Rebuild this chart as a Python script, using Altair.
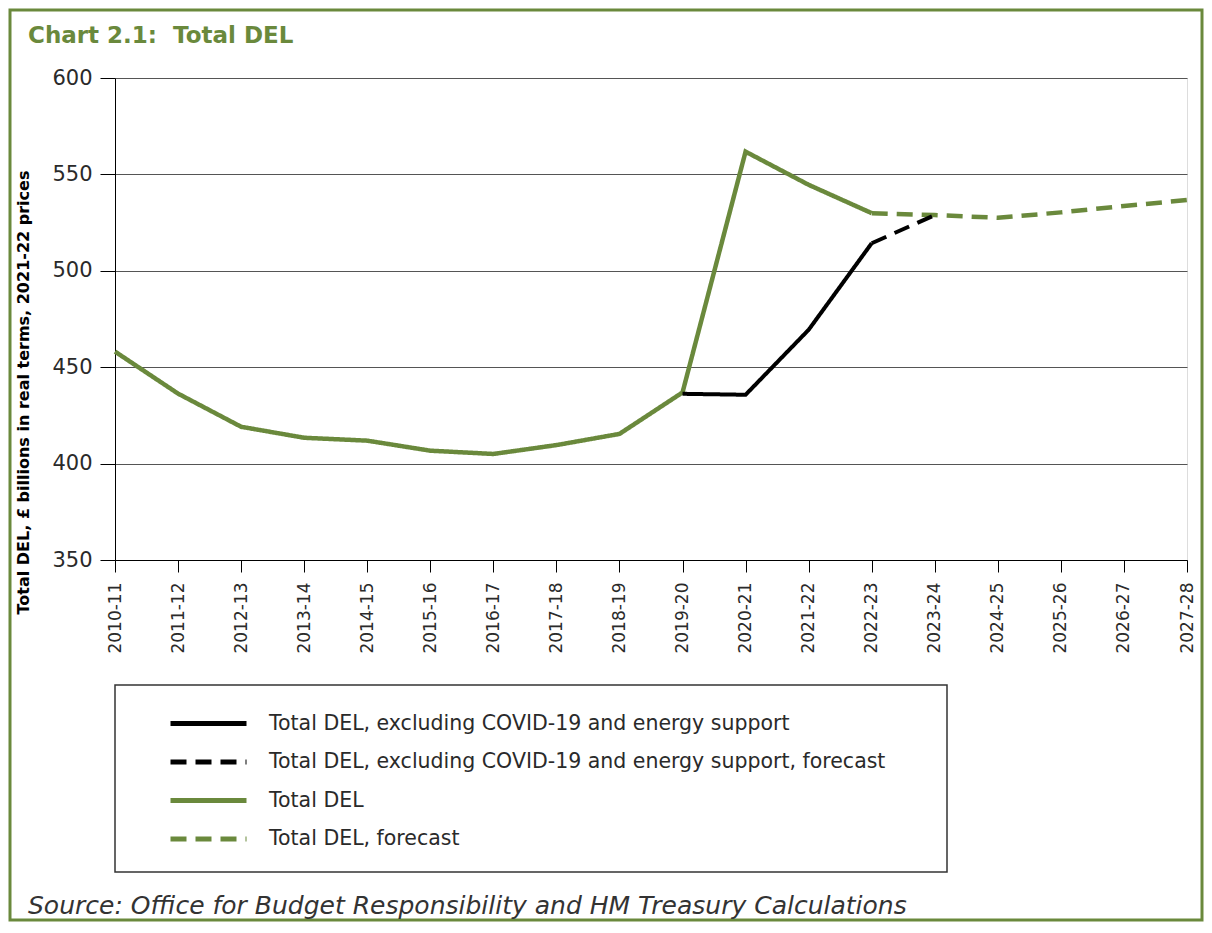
import altair as alt
import pandas as pd

# ---------------- data ----------------
years = ["2010-11", "2011-12", "2012-13", "2013-14", "2014-15", "2015-16",
         "2016-17", "2017-18", "2018-19", "2019-20", "2020-21", "2021-22",
         "2022-23", "2023-24", "2024-25", "2025-26", "2026-27", "2027-28"]

total_del_years = years[0:13]
total_del = [458.1, 436.3, 419.1, 413.4, 411.9, 406.7, 405.0, 409.6, 415.4,
             436.9, 561.8, 544.6, 529.9]

total_del_fc_years = years[12:18]
total_del_fc = [529.9, 528.9, 527.5, 530.3, 533.6, 536.7]

excl_years = years[9:13]
excl = [436.2, 435.7, 469.4, 514.3]

excl_fc_years = years[12:14]
excl_fc = [514.3, 528.9]

series_names = [
    "Total DEL, excluding COVID-19 and energy support",
    "Total DEL, excluding COVID-19 and energy support, forecast",
    "Total DEL",
    "Total DEL, forecast",
]

chart_title = "Chart 2.1:\u00a0 Total DEL"
y_title = "Total DEL, £ billions in real terms, 2021-22 prices"
source_text = "Source: Office for Budget Responsibility and HM Treasury Calculations"

GREEN = "#6A893C"
BLACK = "#000000"
TEXT = "#2a2a2a"
FONT = "DejaVu Sans"

rows = []
for ys, vs, name in [(excl_years, excl, series_names[0]),
                     (excl_fc_years, excl_fc, series_names[1]),
                     (total_del_years, total_del, series_names[2]),
                     (total_del_fc_years, total_del_fc, series_names[3])]:
    for y, v in zip(ys, vs):
        rows.append({"year": y, "value": v, "series": name})
df = pd.DataFrame(rows)

# ---------------- encodings ----------------
leg = alt.Legend(
    title=None, orient="none", legendX=81, legendY=633,
    symbolType="M-3.8,0H3.8", symbolSize=400, symbolStrokeWidth=5,
    labelFontSize=20.5, labelFont=FONT, labelColor=TEXT,
    labelOffset=48, rowPadding=15.5, padding=0, labelLimit=900,
)

x_enc = alt.X(
    "year:O", sort=years, scale=alt.Scale(type="point", padding=0),
    axis=alt.Axis(title=None, labelAngle=270, labelAlign="right", labelBaseline="middle",
                  labelFontSize=17, labelFont=FONT, labelColor=TEXT,
                  labelPadding=10, tickSize=12, tickColor="#000", domainColor="#000",
                  grid=False, labelOverlap=False),
)
y_enc = alt.Y(
    "value:Q", scale=alt.Scale(domain=[350, 600], nice=False, zero=False),
    axis=alt.Axis(values=[350, 400, 450, 500, 550, 600], title=y_title,
                  titleFont=FONT, titleFontSize=16, titleFontWeight="bold", titleColor="#000",
                  titleAngle=270, titleX=-87, titleY=314, titleAlign="center",
                  titleBaseline="alphabetic",
                  labelFontSize=21, labelFont=FONT, labelColor=TEXT,
                  labelPadding=8, tickSize=15, tickColor="#000", domainColor="#000",
                  grid=True, gridColor="#555", gridWidth=1),
)
color_enc = alt.Color("series:N", scale=alt.Scale(domain=series_names,
                      range=[BLACK, BLACK, GREEN, GREEN]), legend=leg)
dash_enc = alt.StrokeDash("series:N", scale=alt.Scale(domain=series_names,
                          range=[[1, 0], [16, 9], [1, 0], [16, 9]]), legend=leg)

base = alt.Chart(df)

green_lines = base.transform_filter(
    alt.FieldOneOfPredicate(field="series", oneOf=[series_names[2], series_names[3]])
).mark_line(strokeWidth=4.5).encode(x=x_enc, y=y_enc, color=color_enc, strokeDash=dash_enc)

black_lines = base.transform_filter(
    alt.FieldOneOfPredicate(field="series", oneOf=[series_names[0], series_names[1]])
).mark_line(strokeWidth=4).encode(x=x_enc, y=y_enc, color=color_enc, strokeDash=dash_enc)

one = pd.DataFrame({"k": [0]})

title_mark = alt.Chart(pd.DataFrame({"t": [chart_title]})).mark_text(
    align="left", baseline="alphabetic", fontSize=23, fontWeight="bold",
    color=GREEN, font=FONT
).encode(x=alt.value(-87), y=alt.value(-35), text="t:N")

source_mark = alt.Chart(pd.DataFrame({"t": [source_text]})).mark_text(
    align="left", baseline="alphabetic", fontSize=25, fontStyle="italic",
    color="#333333", font=FONT
).encode(x=alt.value(-87), y=alt.value(836), text="t:N")

legend_box = alt.Chart(one).mark_rect(
    fillOpacity=0, stroke="#333333", strokeWidth=1.5
).encode(x=alt.value(0), x2=alt.value(832), y=alt.value(607), y2=alt.value(794))

frame = alt.Chart(one).mark_rect(
    fillOpacity=0, stroke=GREEN, strokeWidth=3
).encode(x=alt.value(-105), x2=alt.value(1087), y=alt.value(-68), y2=alt.value(842))

chart = alt.layer(
    frame, legend_box, green_lines, black_lines, title_mark, source_mark
).properties(
    width=1072, height=482,
    autosize=alt.AutoSizeParams(type="none"),
    padding={"left": 107, "top": 70, "right": 17, "bottom": 362},
).configure_view(
    stroke="#333333", strokeWidth=1
).configure(background="white")

chart.save("out.html", embed_options={"renderer": "svg", "actions": False})
